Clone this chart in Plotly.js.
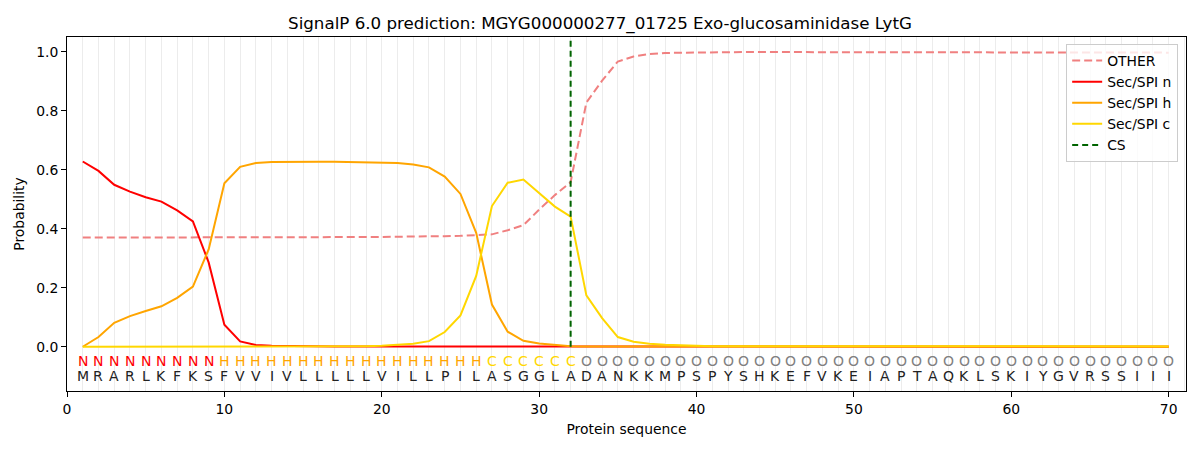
<!DOCTYPE html>
<html>
<head>
<meta charset="utf-8">
<script src="https://cdn.plot.ly/plotly-3.0.1.min.js"></script>
<style>
  html, body { margin: 0; padding: 0; background: #fff; }
  #main { width: 1200px; height: 450px; }
</style>
</head>
<body>
<div id="main"></div>
<script>
// residue positions 1..70
const positions = []
for (let i = 1; i <= 70; i++) positions.push(i)

const sequence = 'MRARLKFKSFVVIVLLLLLVILLPILASGGLADANKKMPSPYSHKEFVKEIAPTAQKLSKIYGVRSSIII'.split('')
const regionLabels = 'NNNNNNNNNHHHHHHHHHHHHHHHHHCCCCCCOOOOOOOOOOOOOOOOOOOOOOOOOOOOOOOOOOOOOO'.split('')

const other = [
  0.370, 0.370, 0.370, 0.370, 0.370, 0.370, 0.370, 0.370, 0.370, 0.370,
  0.371, 0.371, 0.371, 0.371, 0.371, 0.372, 0.372, 0.372, 0.372, 0.372,
  0.373, 0.373, 0.374, 0.375, 0.376, 0.378, 0.381, 0.395, 0.412, 0.465,
  0.514, 0.558, 0.828, 0.902, 0.967, 0.984, 0.992, 0.996, 0.997, 0.998,
  0.999, 0.999, 0.999, 0.999, 0.999, 0.999, 0.999, 0.999, 0.999, 0.999,
  0.999, 0.999, 0.999, 0.999, 0.999, 0.999, 0.999, 0.999, 0.999, 0.999,
  0.998, 0.998, 0.998, 0.998, 0.998, 0.997, 0.997, 0.997, 0.997, 0.997
]
const secN = [
  0.628, 0.596, 0.549, 0.526, 0.507, 0.492, 0.462, 0.425, 0.286, 0.075,
  0.018, 0.006, 0.003, 0.002, 0.001, 0.001, 0.001, 0.001, 0.001, 0.001,
  0.001, 0.001, 0.001, 0.001, 0.001, 0.001, 0.001, 0.001, 0.001, 0.001,
  0.001, 0.001, 0.000, 0.000, 0.000, 0.000, 0.000, 0.000, 0.000, 0.000,
  0.000, 0.000, 0.000, 0.000, 0.000, 0.000, 0.000, 0.000, 0.000, 0.000,
  0.000, 0.000, 0.000, 0.000, 0.000, 0.000, 0.000, 0.000, 0.000, 0.000,
  0.000, 0.000, 0.000, 0.000, 0.000, 0.000, 0.000, 0.000, 0.000, 0.000
]
const secH = [
  0.000, 0.033, 0.081, 0.104, 0.121, 0.137, 0.166, 0.204, 0.330, 0.554,
  0.610, 0.623, 0.626, 0.627, 0.627, 0.627, 0.627, 0.626, 0.626, 0.625,
  0.623, 0.618, 0.608, 0.577, 0.518, 0.386, 0.143, 0.051, 0.020, 0.011,
  0.006, 0.002, 0.001, 0.001, 0.001, 0.001, 0.001, 0.001, 0.001, 0.001,
  0.001, 0.001, 0.001, 0.001, 0.001, 0.001, 0.001, 0.001, 0.001, 0.001,
  0.001, 0.001, 0.001, 0.001, 0.001, 0.001, 0.001, 0.001, 0.001, 0.001,
  0.001, 0.001, 0.001, 0.001, 0.001, 0.001, 0.001, 0.001, 0.001, 0.001
]
const secC = [
  0.000, 0.000, 0.000, 0.000, 0.000, 0.000, 0.000, 0.000, 0.000, 0.000,
  0.000, 0.000, 0.000, 0.000, 0.000, 0.001, 0.001, 0.001, 0.002, 0.003,
  0.006, 0.010, 0.019, 0.050, 0.106, 0.240, 0.477, 0.556, 0.567, 0.522,
  0.475, 0.441, 0.174, 0.097, 0.033, 0.017, 0.010, 0.007, 0.005, 0.003,
  0.002, 0.002, 0.002, 0.001, 0.001, 0.001, 0.001, 0.001, 0.001, 0.001,
  0.001, 0.001, 0.001, 0.001, 0.001, 0.001, 0.001, 0.001, 0.001, 0.001,
  0.001, 0.001, 0.001, 0.001, 0.001, 0.001, 0.001, 0.001, 0.001, 0.001
]
const csPos = 32
const csSpan = [0, 1.05]

const labelColors = { N: 'red', H: 'orange', C: 'gold', O: 'gray' }
const font = 'DejaVu Sans, Liberation Sans, sans-serif'

const lineTrace = (name, ys, color, dash) => ({
  x: positions,
  y: ys,
  type: 'scatter',
  mode: 'lines',
  name: name,
  line: { color: color, width: 2, dash: dash || 'solid' },
})

const plotData = [
  lineTrace('OTHER', other, '#f08080', '8px,4px'),
  lineTrace('Sec/SPI n', secN, 'red'),
  lineTrace('Sec/SPI h', secH, 'orange'),
  lineTrace('Sec/SPI c', secC, 'gold'),
  {
    x: [csPos, csPos],
    y: csSpan,
    type: 'scatter',
    mode: 'lines',
    name: 'CS',
    line: { color: '#006400', width: 2, dash: '6px,4px' },
  },
]

const annotations = []
positions.forEach((pos, i) => {
  annotations.push({
    x: pos, y: -0.047, xref: 'x', yref: 'y',
    text: regionLabels[i], showarrow: false,
    font: { family: font, size: 14, color: labelColors[regionLabels[i]] },
  })
  annotations.push({
    x: pos, y: -0.098, xref: 'x', yref: 'y',
    text: sequence[i], showarrow: false,
    font: { family: font, size: 14, color: '#222' },
  })
})

Plotly.newPlot('main', plotData, {
  width: 1200,
  height: 450,
  margin: { l: 67, r: 14, t: 37, b: 59 },
  paper_bgcolor: 'white',
  plot_bgcolor: 'white',
  font: { family: font, size: 13.9, color: 'black' },
  title: {
    text: 'SignalP 6.0 prediction: MGYG000000277_01725 Exo-glucosaminidase LytG',
    font: { family: font, size: 16.7, color: 'black' },
    x: 0.5, xanchor: 'center', y: 0.948, yanchor: 'middle',
  },
  xaxis: {
    range: [0, 71.1],
    tick0: 0, dtick: 10,
    ticks: 'outside', ticklen: 5, tickcolor: 'black',
    showline: true, mirror: true, linecolor: 'black', linewidth: 1,
    showgrid: true, gridcolor: '#ececec', gridwidth: 1,
    zeroline: false,
    minor: { tick0: 0, dtick: 1, showgrid: true, gridcolor: '#ececec', gridwidth: 1, ticklen: 0 },
    title: { text: 'Protein sequence', font: { family: font, size: 13.9 }, standoff: 8 },
  },
  yaxis: {
    range: [-0.15, 1.05],
    tick0: 0, dtick: 0.2, tickformat: '.1f',
    ticks: 'outside', ticklen: 5, tickcolor: 'black',
    showline: true, mirror: true, linecolor: 'black', linewidth: 1,
    showgrid: false, zeroline: false,
    title: { text: 'Probability', font: { family: font, size: 13.9 }, standoff: 8 },
  },
  legend: {
    x: 0.993, y: 0.98, xanchor: 'right', yanchor: 'top',
    bgcolor: 'rgba(255,255,255,0.8)', bordercolor: '#cccccc', borderwidth: 1,
    font: { family: font, size: 13.9 },
    tracegroupgap: 0,
  },
  annotations: annotations,
  showlegend: true,
}, { displayModeBar: false })
</script>
</body>
</html>
